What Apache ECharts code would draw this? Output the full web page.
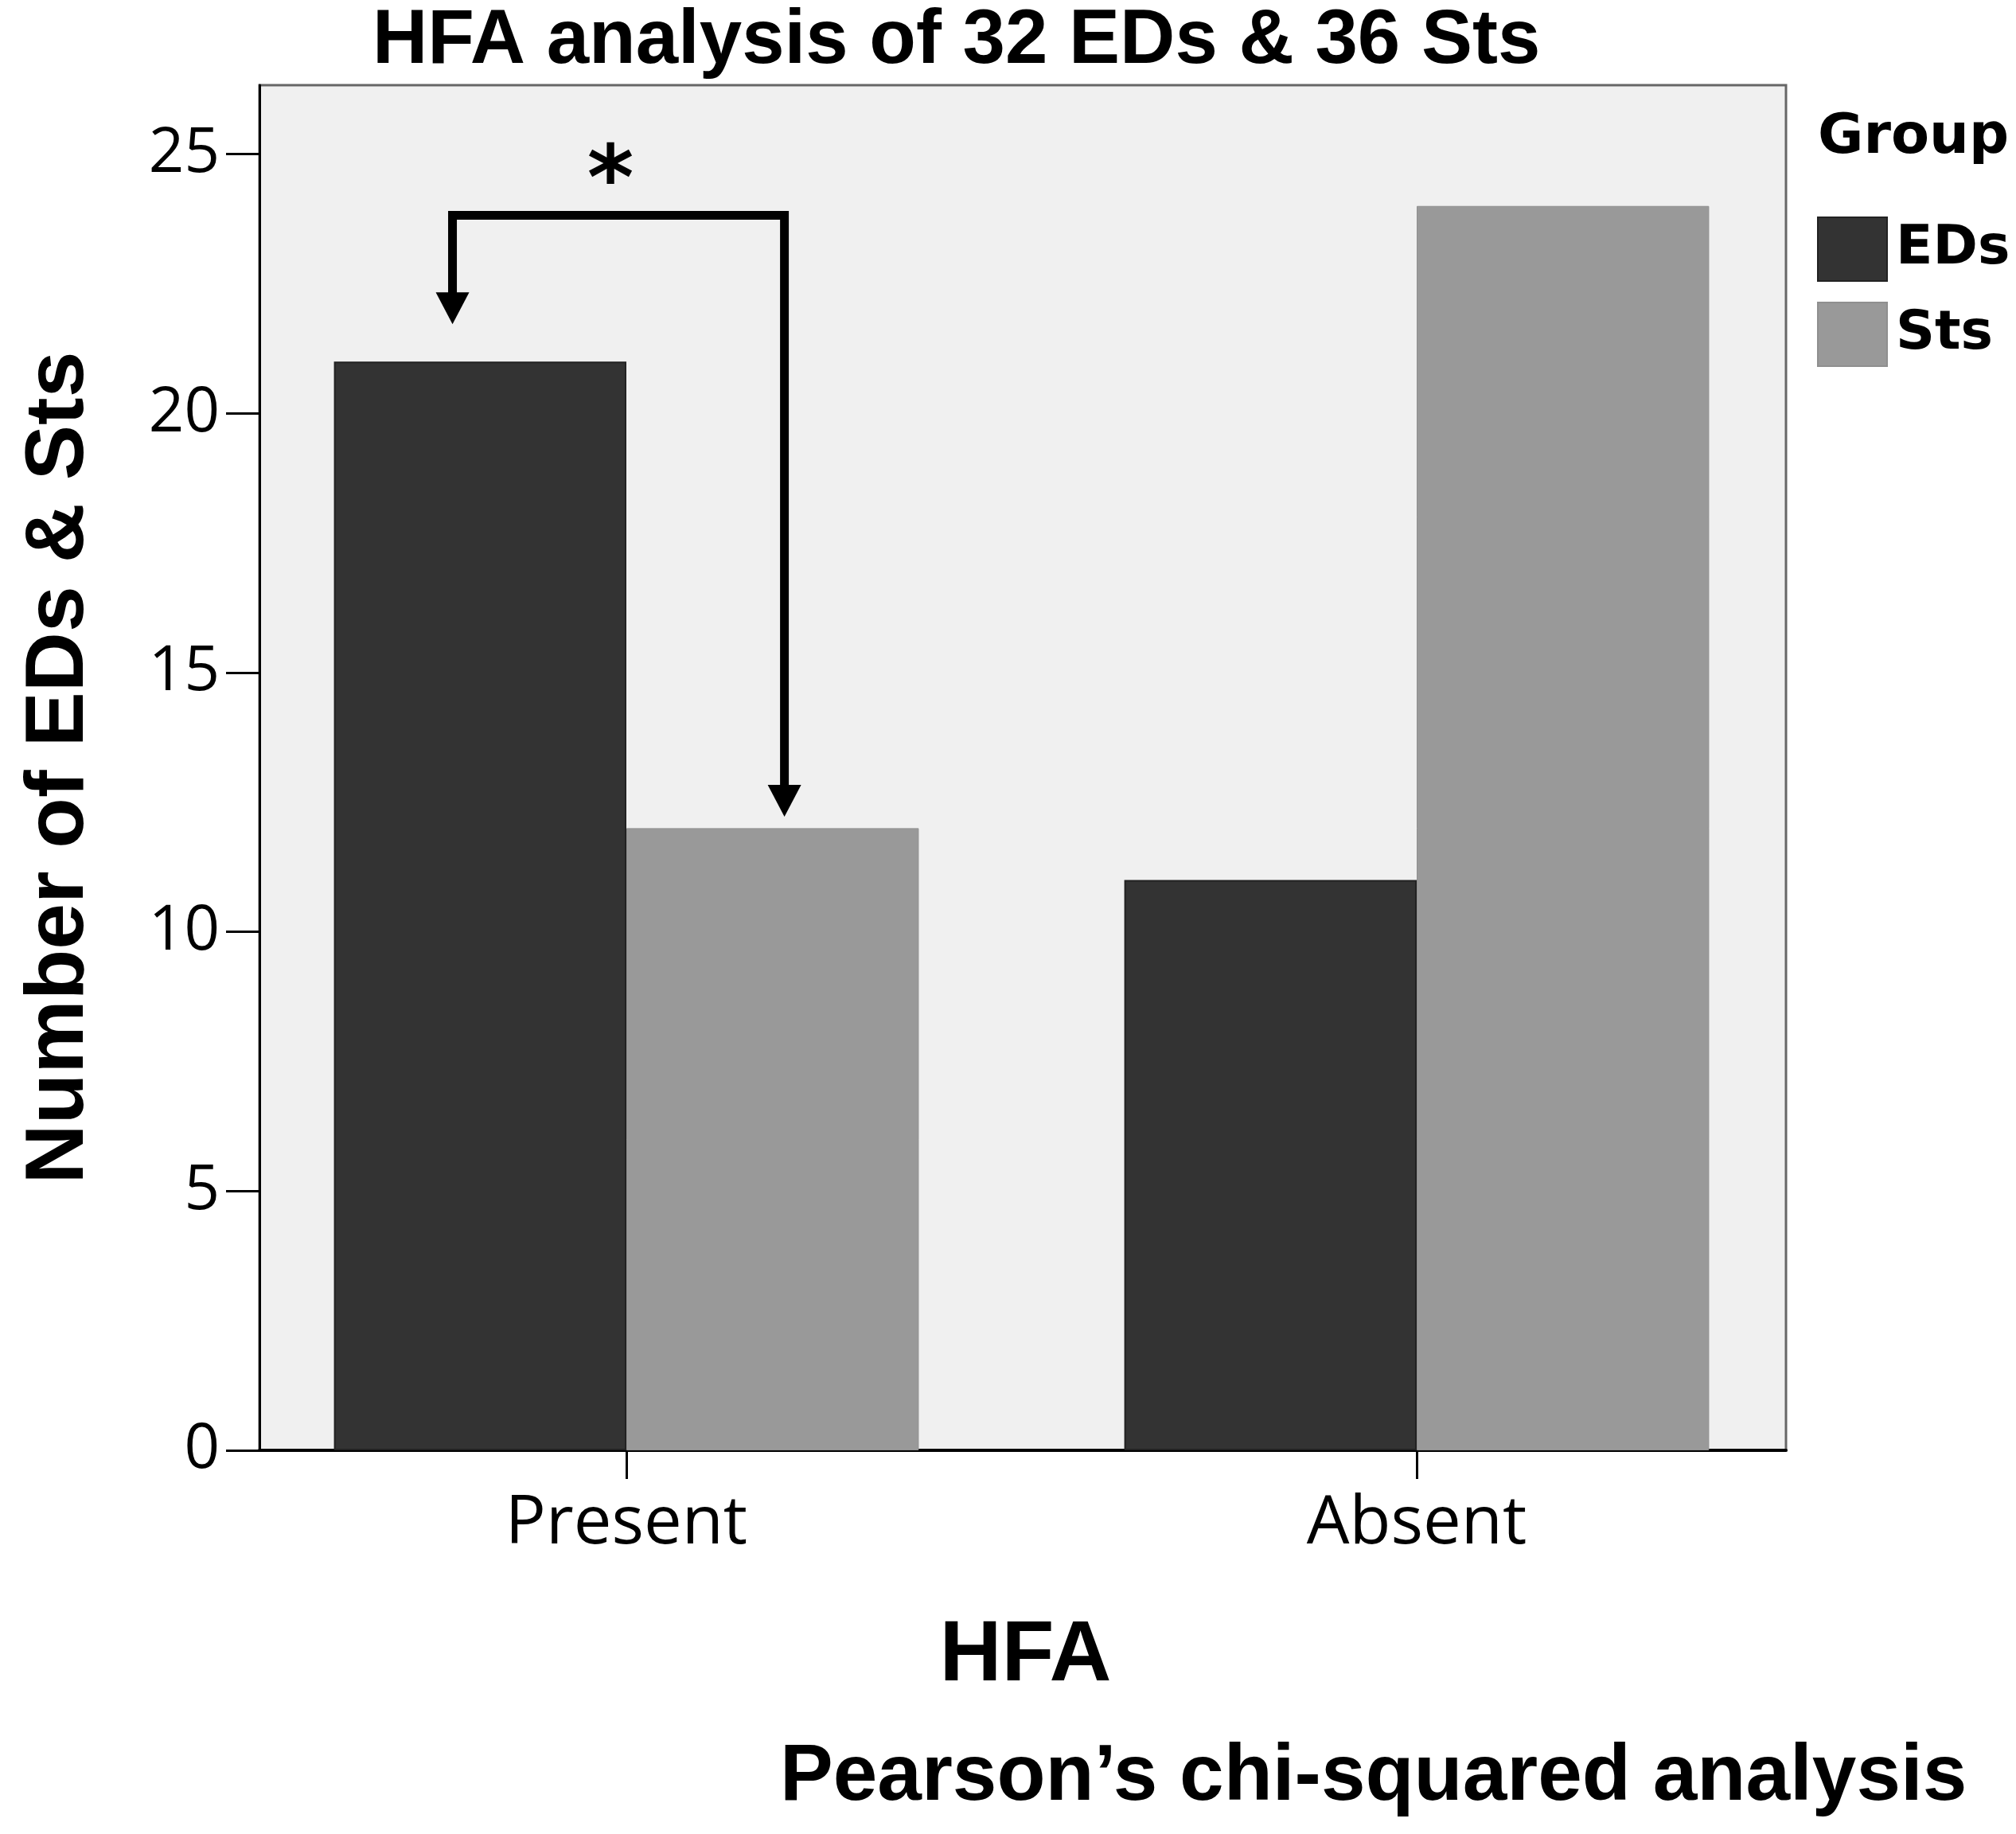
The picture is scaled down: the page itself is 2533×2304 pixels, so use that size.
<!DOCTYPE html>
<html>
<head>
<meta charset="utf-8">
<script src="https://cdn.jsdelivr.net/npm/echarts@6/dist/echarts.min.js"></script>
<style>
html,body{margin:0;padding:0;background:#fff;}
#chart{width:2533px;height:2304px;}
</style>
</head>
<body>
<div id="chart"></div>
<script>
// ---- data ----
const categories = ['Present', 'Absent'];
const groupNames = ['EDs', 'Sts'];
const edsValues = [21, 11];
const stsValues = [12, 24];
const yMin = 0;
const yMax = 26.33;
const yInterval = 5;
const yTickValues = [0, 5, 10, 15, 20, 25];
// significance bracket (data units): category index, bracket level, arrow tip values
const sigCategory = [0];
const sigLevel = [23.82];
const sigLeftTip = [21.72];
const sigRightTip = [12.22];
const sigLabel = ['*'];

const chart = echarts.init(document.getElementById('chart'), null, {renderer: 'canvas'});

const tickFont = 'Open Sans';
const boldFont = 'Liberation Sans';

const option = {
  backgroundColor: '#ffffff',
  animation: false,
  title: [
    {
      text: 'HFA analysis of 32 EDs & 36 Sts',
      left: 463, top: 0,
      textStyle: {fontFamily: boldFont, fontWeight: 'bold', fontSize: 96, color: '#000'}
    },
    {
      text: 'Group',
      left: 2279, top: 134,
      textStyle: {fontFamily: 'DejaVu Sans', fontWeight: 'bold', fontSize: 70, color: '#000'}
    },
    {
      text: 'Pearson\u2019s chi-squared analysis',
      left: 975, top: 2178,
      textStyle: {fontFamily: boldFont, fontWeight: 'bold', fontSize: 100, color: '#000'}
    }
  ],
  legend: {
    data: groupNames,
    orient: 'vertical',
    left: 2278, top: 267,
    itemWidth: 87, itemHeight: 80, itemGap: 25,
    icon: 'rect',
    textStyle: {fontFamily: 'DejaVu Sans', fontWeight: 'bold', fontSize: 68, color: '#000', padding: [0, 0, 0, 6]}
  },
  grid: [
    {
      left: 326, right: 289, top: 107, bottom: 482,
      show: true, backgroundColor: '#f0f0f0', borderColor: '#666', borderWidth: 3,
      containLabel: false
    },
    {
      left: 290.5, right: 256.5, top: 107, bottom: 482,
      containLabel: false
    }
  ],
  xAxis: [
    {
      gridIndex: 0, type: 'category', data: categories,
      axisLine: {show: true, lineStyle: {color: '#000', width: 4}},
      axisTick: {show: false}, axisLabel: {show: false}, splitLine: {show: false}
    },
    {
      gridIndex: 1, type: 'category', data: categories,
      axisLine: {show: false},
      axisTick: {show: true, alignWithLabel: true, length: 36, lineStyle: {color: '#000', width: 3}},
      axisLabel: {show: true, margin: 50, fontFamily: tickFont, fontSize: 85, color: '#000'},
      splitLine: {show: false},
      name: 'HFA', nameLocation: 'middle', nameGap: 205,
      nameTextStyle: {fontFamily: boldFont, fontWeight: 'bold', fontSize: 108, color: '#000', padding: [0, 0, 0, 10]}
    }
  ],
  yAxis: [
    {
      gridIndex: 0, type: 'value', min: yMin, max: yMax, interval: yInterval,
      axisLine: {show: true, lineStyle: {color: '#000', width: 3}},
      axisTick: {show: true, inside: false, length: 42, customValues: yTickValues, lineStyle: {color: '#000', width: 3}},
      axisLabel: {show: true, margin: 50, fontFamily: tickFont, fontSize: 78, color: '#000',
        customValues: yTickValues},
      splitLine: {show: false},
      name: 'Number of EDs & Sts', nameLocation: 'middle', nameGap: 199, nameRotate: 90,
      nameTextStyle: {fontFamily: boldFont, fontWeight: 'bold', fontSize: 104, color: '#000'}
    },
    {
      gridIndex: 1, type: 'value', min: yMin, max: yMax, interval: yInterval, show: false
    }
  ],
  series: [
    {
      name: groupNames[0], type: 'bar', xAxisIndex: 1, yAxisIndex: 1,
      data: edsValues, barWidth: '37%', barGap: '0%',
      itemStyle: {color: '#333333', borderColor: '#222222', borderWidth: 2}
    },
    {
      name: groupNames[1], type: 'bar', xAxisIndex: 1, yAxisIndex: 1,
      data: stsValues, barWidth: '37%', barGap: '0%',
      itemStyle: {color: '#999999', borderColor: '#8f8f8f', borderWidth: 1}
    },
    {
      type: 'custom', xAxisIndex: 1, yAxisIndex: 1, silent: true, clip: false, z: 10,
      data: sigCategory.map((c, i) => [c, sigLevel[i], sigLeftTip[i], sigRightTip[i]]),
      renderItem: function (params, api) {
        const c = api.coord([api.value(0), api.value(1)]);
        const band = api.size([1, 0])[0];
        const xL = c[0] - 0.22 * band;
        const xR = c[0] + 0.2 * band;
        const yB = c[1];
        const yTL = api.coord([api.value(0), api.value(2)])[1];
        const yTR = api.coord([api.value(0), api.value(3)])[1];
        const ah = 40, aw = 42;
        return {
          type: 'group',
          children: [
            {type: 'polyline', shape: {points: [[xL, yTL - ah + 4], [xL, yB], [xR, yB], [xR, yTR - ah + 4]]},
              style: {stroke: '#000', lineWidth: 11, fill: null, lineJoin: 'miter'}},
            {type: 'polygon', shape: {points: [[xL - aw / 2, yTL - ah], [xL + aw / 2, yTL - ah], [xL, yTL]]},
              style: {fill: '#000'}},
            {type: 'polygon', shape: {points: [[xR - aw / 2, yTR - ah], [xR + aw / 2, yTR - ah], [xR, yTR]]},
              style: {fill: '#000'}},
            {type: 'text', x: c[0] - 0.02 * band, y: yB - 38,
              style: {text: sigLabel[params.dataIndex], fontFamily: 'DejaVu Sans', fontWeight: 'bold', fontSize: 112,
                fill: '#000', align: 'center', verticalAlign: 'middle'}}
          ]
        };
      }
    }
  ]
};
chart.setOption(option);
</script>
</body>
</html>
